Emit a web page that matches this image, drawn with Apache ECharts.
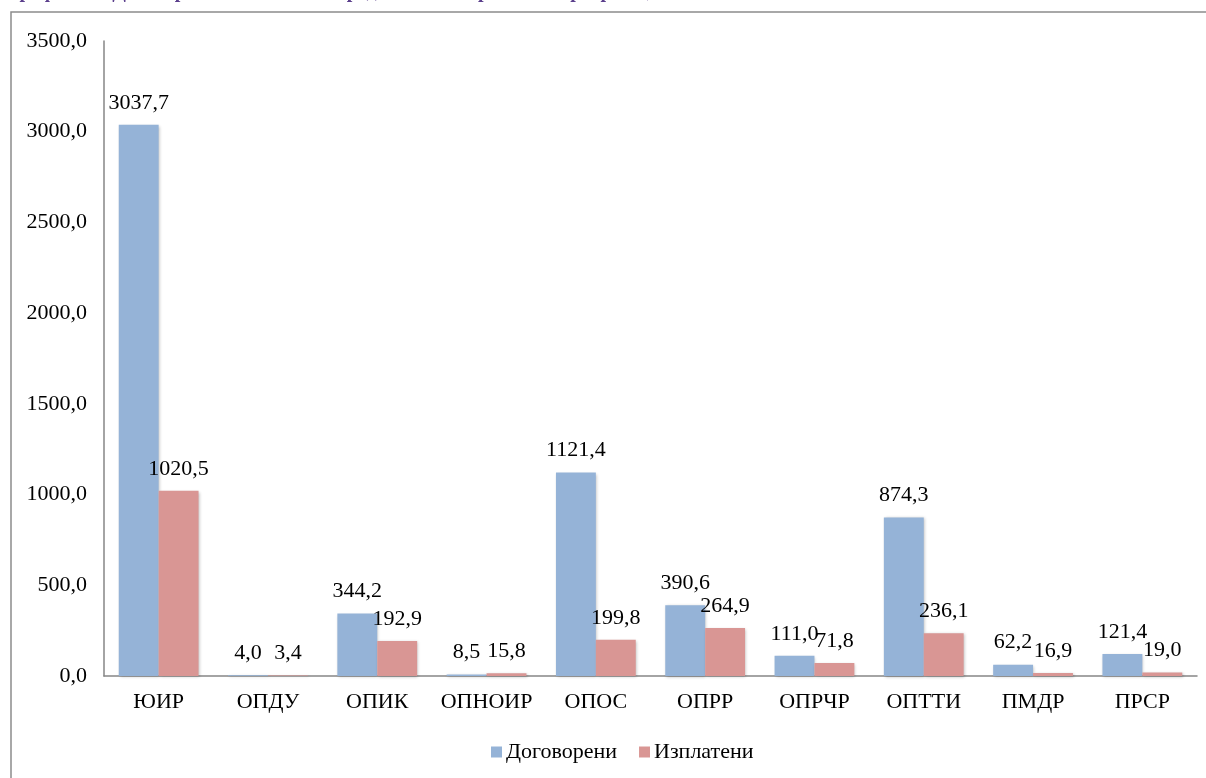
<!DOCTYPE html>
<html>
<head>
<meta charset="utf-8">
<script src="https://cdn.jsdelivr.net/npm/echarts@6/dist/echarts.min.js"></script>
<style>
html,body{margin:0;padding:0;background:#fff;}
#c{width:1206px;height:778px;}
</style>
</head>
<body>
<div id="c"></div>
<script>
var categories = ['ЮИР','ОПДУ','ОПИК','ОПНОИР','ОПОС','ОПРР','ОПРЧР','ОПТТИ','ПМДР','ПРСР'];
var contracted = [3037.7, 4.0, 344.2, 8.5, 1121.4, 390.6, 111.0, 874.3, 62.2, 121.4];
var paid = [1020.5, 3.4, 192.9, 15.8, 199.8, 264.9, 71.8, 236.1, 16.9, 19.0];
var seriesNames = ['Договорени','Изплатени'];
var titleText = 'Графика 3. Договорени и изплатени средства по оперативни програми, млн. лв.';

var FONT = '"Liberation Serif", "Times New Roman", serif';
var FS = 22;
function fmt(v){ return v.toFixed(1).replace('.', ','); }

var chart = echarts.init(document.getElementById('c'));
var barShadow = {shadowBlur: 3, shadowColor: 'rgba(0,0,0,0.25)', shadowOffsetX: 1, shadowOffsetY: 1};
chart.setOption({
  animation: false,
  backgroundColor: '#fff',
  graphic: [
    {type: 'rect', shape: {x: 11, y: 12, width: 1400, height: 1000},
     style: {fill: 'none', stroke: '#8c8c8c', lineWidth: 1.5}, z: -1},
    {type: 'text', left: 8, top: -18,
     style: {text: titleText, fill: '#5b3f8c', font: 'bold 20px ' + FONT}}
  ],
  grid: {left: 104, right: 9, top: 41, bottom: 102, containLabel: false},
  legend: {
    left: 486, top: 736,
    itemWidth: 11, itemHeight: 11, itemGap: 22,
    icon: 'rect',
    textStyle: {fontFamily: FONT, fontSize: FS, color: '#000', padding: [0, 0, 0, -1]},
    data: seriesNames
  },
  xAxis: {
    type: 'category', data: categories,
    axisLine: {lineStyle: {color: '#868686', width: 1.5}},
    axisTick: {show: false},
    axisLabel: {interval: 0, hideOverlap: false, fontFamily: FONT, fontSize: FS, color: '#000', margin: 15}
  },
  yAxis: {
    type: 'value', min: 0, max: 3500, interval: 500,
    axisLine: {show: true, lineStyle: {color: '#868686', width: 1.5}},
    axisTick: {show: false},
    splitLine: {show: false},
    axisLabel: {fontFamily: FONT, fontSize: FS, color: '#000', margin: 17,
      formatter: function(v){ return fmt(v); }}
  },
  series: [
    {name: seriesNames[0], type: 'bar', data: contracted, barGap: '0%', barCategoryGap: '27%',
     itemStyle: Object.assign({color: '#95b3d7'}, barShadow),
     label: {show: true, position: 'top', distance: 11, fontFamily: FONT, fontSize: FS, color: '#000',
       formatter: function(p){ return fmt(p.value); }}},
    {name: seriesNames[1], type: 'bar', data: paid,
     itemStyle: Object.assign({color: '#d99694'}, barShadow),
     label: {show: true, position: 'top', distance: 11, fontFamily: FONT, fontSize: FS, color: '#000',
       formatter: function(p){ return fmt(p.value); }}}
  ]
});
</script>
</body>
</html>
